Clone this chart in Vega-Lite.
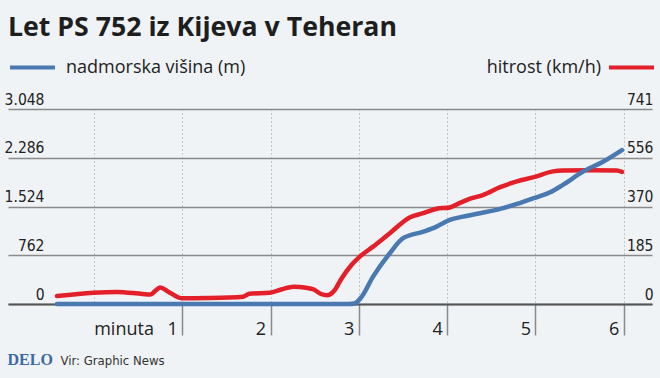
{
  "$schema": "https://vega.github.io/schema/vega-lite/v6.json",
  "width": 644,
  "height": 195,
  "autosize": {"type": "none"},
  "padding": {"left": 8, "top": 109, "right": 8, "bottom": 74},
  "background": "#eff3f6",
  "config": {
    "locale": {"number": {"decimal": ",", "thousands": ".", "grouping": [3], "currency": ["", " €"]}},
    "view": {"stroke": null},
    "legend": {"padding": 0}
  },
  "title": {
    "text": "Let PS 752 iz Kijeva v Teheran",
    "anchor": "start",
    "frame": "group",
    "font": "Open Sans",
    "fontSize": 26.7,
    "fontWeight": "bold",
    "color": "#1e1e1e",
    "baseline": "alphabetic",
    "offset": -20
  },
  "datasets": {
    "visina": [
      {"minuta": -0.42, "visina": 0},
      {"minuta": 1.0, "visina": 0},
      {"minuta": 2.0, "visina": 0},
      {"minuta": 2.88, "visina": 0},
      {"minuta": 2.95, "visina": 8},
      {"minuta": 3.03, "visina": 110},
      {"minuta": 3.16, "visina": 427},
      {"minuta": 3.35, "visina": 793},
      {"minuta": 3.5, "visina": 1028},
      {"minuta": 3.73, "visina": 1131},
      {"minuta": 3.88, "visina": 1210},
      {"minuta": 4.03, "visina": 1314},
      {"minuta": 4.18, "visina": 1366},
      {"minuta": 4.37, "visina": 1419},
      {"minuta": 4.6, "visina": 1486},
      {"minuta": 4.79, "visina": 1565},
      {"minuta": 4.98, "visina": 1654},
      {"minuta": 5.16, "visina": 1742},
      {"minuta": 5.31, "visina": 1862},
      {"minuta": 5.54, "visina": 2070},
      {"minuta": 5.77, "visina": 2227},
      {"minuta": 5.98, "visina": 2405}
    ],
    "hitrost": [
      {"minuta": -0.42, "hitrost": 30},
      {"minuta": -0.01, "hitrost": 43},
      {"minuta": 0.26, "hitrost": 46},
      {"minuta": 0.55, "hitrost": 38},
      {"minuta": 0.64, "hitrost": 36},
      {"minuta": 0.7, "hitrost": 52},
      {"minuta": 0.75, "hitrost": 63},
      {"minuta": 0.84, "hitrost": 47},
      {"minuta": 0.99, "hitrost": 22},
      {"minuta": 1.28, "hitrost": 23},
      {"minuta": 1.69, "hitrost": 28},
      {"minuta": 1.76, "hitrost": 39},
      {"minuta": 1.99, "hitrost": 43},
      {"minuta": 2.12, "hitrost": 55},
      {"minuta": 2.26, "hitrost": 66},
      {"minuta": 2.4, "hitrost": 62},
      {"minuta": 2.49, "hitrost": 55},
      {"minuta": 2.57, "hitrost": 38},
      {"minuta": 2.64, "hitrost": 33},
      {"minuta": 2.72, "hitrost": 50},
      {"minuta": 2.8, "hitrost": 95},
      {"minuta": 2.92, "hitrost": 150},
      {"minuta": 3.01, "hitrost": 180},
      {"minuta": 3.16, "hitrost": 218},
      {"minuta": 3.35, "hitrost": 269},
      {"minuta": 3.58, "hitrost": 330},
      {"minuta": 3.73, "hitrost": 345},
      {"minuta": 3.88, "hitrost": 362},
      {"minuta": 4.03, "hitrost": 367},
      {"minuta": 4.15, "hitrost": 385},
      {"minuta": 4.26, "hitrost": 400},
      {"minuta": 4.41, "hitrost": 415},
      {"minuta": 4.6, "hitrost": 444},
      {"minuta": 4.79, "hitrost": 466},
      {"minuta": 4.98, "hitrost": 482},
      {"minuta": 5.2, "hitrost": 504},
      {"minuta": 5.31, "hitrost": 507},
      {"minuta": 5.62, "hitrost": 508},
      {"minuta": 5.92, "hitrost": 507},
      {"minuta": 5.98, "hitrost": 502}
    ]
  },
  "layer": [
    {
      "data": {"name": "hitrost"},
      "mark": {"type": "line", "interpolate": "monotone", "strokeWidth": 4.5, "strokeCap": "round", "strokeJoin": "round"},
      "encoding": {
        "x": {
          "field": "minuta",
          "type": "quantitative",
          "scale": {"domain": [-0.975, 6.32], "nice": false, "zero": false},
          "axis": {
            "title": "Vir: Graphic News",
            "titleX": 52,
            "titleY": 60,
            "titleAlign": "left",
            "titleAnchor": "start",
            "titleBaseline": "alphabetic",
            "titleFont": "DejaVu Sans Condensed",
            "titleFontSize": 13,
            "titleFontWeight": "normal",
            "titleColor": "#333333",
            "values": [0, 1, 2, 3, 4, 5, 6],
            "grid": true,
            "gridDash": [1, 3],
            "gridColor": "#9a9a9a",
            "gridWidth": 1,
            "domain": true,
            "domainColor": "#555555",
            "domainWidth": 2,
            "ticks": true,
            "tickSize": 31,
            "tickWidth": 1.5,
            "tickColor": "#8a8a8a",
            "tickOpacity": {"condition": {"test": "datum.value == 0", "value": 0}, "value": 1},
            "labelExpr": "datum.value == 0 ? '' : (datum.value == 1 ? 'minuta\u2002\u00a01' : datum.label)",
            "labelAlign": "right",
            "labelBaseline": "alphabetic",
            "labelPadding": -1,
            "labelOffset": -5,
            "labelFlush": false,
            "labelOverlap": false,
            "labelBound": false,
            "labelFont": "Open Sans",
            "labelFontSize": 18,
            "labelColor": "#222222"
          }
        },
        "y": {
          "field": "hitrost",
          "type": "quantitative",
          "scale": {"domain": [0, 741], "nice": false},
          "axis": {
            "orient": "right",
            "title": null,
            "values": [0, 185, 370, 556, 741],
            "grid": false,
            "domain": false,
            "ticks": false,
            "labelAlign": "right",
            "labelBaseline": "alphabetic",
            "labelPadding": 1,
            "labelOffset": -5,
            "labelOverlap": false,
            "labelBound": false,
            "labelFlush": false,
            "labelFont": "DejaVu Sans Condensed",
            "labelFontSize": 15.5,
            "labelColor": "#222222"
          }
        },
        "color": {
          "datum": "hitrost (km/h)",
          "scale": {"range": ["#e3202a"]},
          "legend": {
            "orient": "none",
            "legendX": 599,
            "legendY": -66,
            "title": null,
            "symbolType": "stroke",
            "symbolSize": 2025,
            "symbolStrokeWidth": 4,
            "labelAlign": "right",
            "labelOffset": -55,
            "labelLimit": 0,
            "labelFont": "Open Sans",
            "labelFontSize": 18,
            "labelColor": "#222222"
          }
        }
      }
    },
    {
      "data": {"name": "visina"},
      "mark": {"type": "line", "interpolate": "monotone", "strokeWidth": 4.5, "strokeCap": "round", "strokeJoin": "round"},
      "encoding": {
        "x": {
          "field": "minuta",
          "type": "quantitative",
          "scale": {"domain": [-0.975, 6.32], "nice": false, "zero": false},
          "axis": {
            "title": "Vir: Graphic News",
            "titleX": 52,
            "titleY": 60,
            "titleAlign": "left",
            "titleAnchor": "start",
            "titleBaseline": "alphabetic",
            "titleFont": "DejaVu Sans Condensed",
            "titleFontSize": 13,
            "titleFontWeight": "normal",
            "titleColor": "#333333",
            "values": [0, 1, 2, 3, 4, 5, 6],
            "grid": true,
            "gridDash": [1, 3],
            "gridColor": "#9a9a9a",
            "gridWidth": 1,
            "domain": true,
            "domainColor": "#555555",
            "domainWidth": 2,
            "ticks": true,
            "tickSize": 31,
            "tickWidth": 1.5,
            "tickColor": "#8a8a8a",
            "tickOpacity": {"condition": {"test": "datum.value == 0", "value": 0}, "value": 1},
            "labelExpr": "datum.value == 0 ? '' : (datum.value == 1 ? 'minuta\u2002\u00a01' : datum.label)",
            "labelAlign": "right",
            "labelBaseline": "alphabetic",
            "labelPadding": -1,
            "labelOffset": -5,
            "labelFlush": false,
            "labelOverlap": false,
            "labelBound": false,
            "labelFont": "Open Sans",
            "labelFontSize": 18,
            "labelColor": "#222222"
          }
        },
        "y": {
          "field": "visina",
          "type": "quantitative",
          "scale": {"domain": [0, 3048], "nice": false},
          "axis": {
            "orient": "left",
            "title": "DELO",
            "titleAngle": 0,
            "titleX": -1,
            "titleY": 255,
            "titleAlign": "left",
            "titleBaseline": "alphabetic",
            "titleFont": "Liberation Serif",
            "titleFontSize": 16,
            "titleFontWeight": "bold",
            "titleColor": "#3d6aa0",
            "values": [0, 762, 1524, 2286, 3048],
            "format": ",d",
            "grid": true,
            "gridColor": "#8a8a8a",
            "gridWidth": 1.5,
            "domain": false,
            "ticks": false,
            "labelAlign": "right",
            "labelBaseline": "alphabetic",
            "labelPadding": -36,
            "labelOffset": -5,
            "labelOverlap": false,
            "labelBound": false,
            "labelFlush": false,
            "labelFont": "DejaVu Sans Condensed",
            "labelFontSize": 15.5,
            "labelColor": "#222222"
          }
        },
        "color": {
          "datum": "nadmorska višina (m)",
          "scale": {"range": ["#4a78b0"]},
          "legend": {
            "orient": "none",
            "legendX": 0,
            "legendY": -66,
            "title": null,
            "symbolType": "stroke",
            "symbolSize": 2025,
            "symbolStrokeWidth": 4,
            "labelOffset": 9,
            "labelLimit": 0,
            "labelFont": "Open Sans",
            "labelFontSize": 18,
            "labelColor": "#222222"
          }
        }
      }
    }
  ],
  "resolve": {"scale": {"y": "independent", "color": "independent"}, "legend": {"color": "independent"}}
}
